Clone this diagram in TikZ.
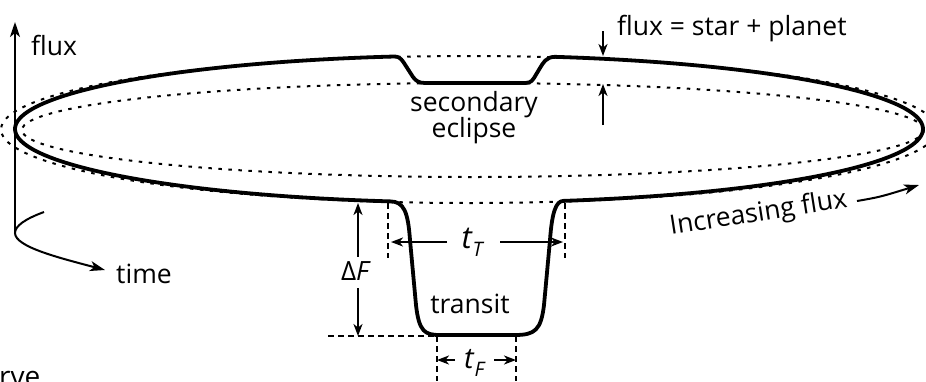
\documentclass[tikz,border=0pt]{standalone}
\usepackage{fontspec}
\setmainfont{Open Sans}
\usetikzlibrary{arrows.meta}
\begin{document}
\begin{tikzpicture}[x=1pt,y=-1pt,
  curve/.style={line width=3.8pt, line join=round, line cap=round},
  dots/.style={line width=2pt, dash pattern=on 3.5pt off 6.5pt},
  dashln/.style={line width=1.6pt, dash pattern=on 5.5pt off 4.5pt},
  arr/.style={line width=2pt, -{Stealth[length=15pt,width=10pt,inset=4pt]}},
  sarr/.style={line width=1.9pt, -{Stealth[length=12pt,width=9pt,inset=3.5pt]}},
  lbl/.style={font=\fontsize{26.5}{30}\selectfont, inner sep=0pt}
]
\useasboundingbox (0,0) rectangle (926,381);
\clip (0,0) rectangle (926,381);

% dotted reference ellipses
\draw[dots] (469,129.5) ellipse [x radius=468, y radius=73.5];
\draw[dots] (473,130) ellipse [x radius=451, y radius=47];

% light curve
\draw[curve] plot[domain=99.6:260, samples=90, smooth] ({469+454*cos(\x)},{129-73.5*sin(\x)})
  .. controls (404,201.5) and (408,212) .. (410,240)
  -- (416,305) .. controls (419,332) and (425,335) .. (440,335)
  -- (515,335) .. controls (535,335) and (541,330) .. (544,305)
  -- (550,240) .. controls (552,212) and (556,201) .. (563.4,200.9)
  -- plot[domain=282:439.1, samples=90, smooth] ({469+454*cos(\x)},{129-73.5*sin(\x)})
  .. controls (546,57) and (543,63) .. (540,68)
  -- (534,78) .. controls (531,83) and (528,83) .. (522,83)
  -- (425,83) .. controls (419,83) and (416,81) .. (413,77)
  -- (404,63) .. controls (400,57) and (398,56.5) .. (393.3,56.5);

% axes
\coordinate (corner) at (15,233);
\coordinate (fluxtip) at (15,22);
\coordinate (hook) at (44,212);
\coordinate (timetip) at (105,270);
\draw[arr] (corner) -- (fluxtip);
\draw[arr] (hook) .. controls (25,219) and (15,226) .. (corner)
  .. controls (15,247) and (60,258) .. (timetip);
\node[lbl, anchor=base west] (flux) at (31,55) {flux};
\node[lbl, anchor=base west] (time) at (116,283) {time};

% flux = star + planet
\coordinate (fa1) at (603,31);
\coordinate (fa2) at (603,56);
\coordinate (fb1) at (603,125);
\coordinate (fb2) at (603,84);
\draw[sarr] (fa1) -- (fa2);
\draw[sarr] (fb1) -- (fb2);
\node[lbl, anchor=base west] (fsp) at (617,35) {flux = star + planet};

% secondary eclipse
\node[lbl, anchor=base] (sec1) at (474,111) {secondary};
\node[lbl, anchor=base] (sec2) at (474,137) {eclipse};

% increasing flux
\node[lbl, anchor=base west, rotate=9] (inc) at (671,235) {Increasing flux};
\coordinate (ia) at (857,201);
\coordinate (ib) at (919,185);
\draw[arr] (ia) .. controls (880,197) .. (ib);

% transit
\node[lbl, anchor=base] (tr) at (470,313) {transit};
\coordinate (d1a) at (388,203);
\coordinate (d1b) at (388,258);
\coordinate (d2a) at (565,203);
\coordinate (d2b) at (565,258);
\coordinate (d3a) at (328,336);
\coordinate (d3b) at (437,336);
\coordinate (d4b) at (437,381);
\coordinate (d5a) at (516,336);
\coordinate (d5b) at (516,381);
\draw[dashln] (d1a) -- (d1b);
\draw[dashln] (d2a) -- (d2b);
\draw[dashln] (d3a) -- (d3b);
\draw[dashln] (d3b) -- (d4b);
\draw[dashln] (d5a) -- (d5b);

% Delta F
\node[lbl, anchor=base] (dF) at (356,280) {Δ\textit{F}};
\coordinate (dft) at (358,203);
\coordinate (dfb) at (358,336);
\draw[sarr] (dF.north -| dft) ++(0,-4) coordinate (dfu) (dfu) -- (dft);
\draw[sarr] (dF.south -| dfb) ++(0,8) coordinate (dfl) (dfl) -- (dfb);

% t_T
\node[inner sep=0pt, anchor=base] (tT) at (473,248) {\fontsize{31}{31}\selectfont\textit{t}\raisebox{-0.28em}{\fontsize{20}{20}\selectfont\textit{T}}};
\coordinate (tTl) at (391,242);
\coordinate (tTr) at (563,242);
\coordinate (tTla) at (447,242);
\coordinate (tTra) at (500,242);
\draw[sarr] (tTla) -- (tTl);
\draw[sarr] (tTra) -- (tTr);

% t_F
\node[inner sep=0pt, anchor=base] (tF) at (475,368) {\fontsize{29}{29}\selectfont\textit{t}\raisebox{-0.28em}{\fontsize{20}{20}\selectfont\textit{F}}};
\coordinate (tFl) at (437,360);
\coordinate (tFr) at (516,360);
\coordinate (tFla) at (455,360);
\coordinate (tFra) at (494,360);
\draw[sarr] (tFla) -- (tFl);
\draw[sarr] (tFra) -- (tFr);

% cut-off label
\node[font=\fontsize{28}{30}\selectfont, inner sep=0pt, anchor=base west] (rve) at (-1,386) {rve};
\end{tikzpicture}
\end{document}
